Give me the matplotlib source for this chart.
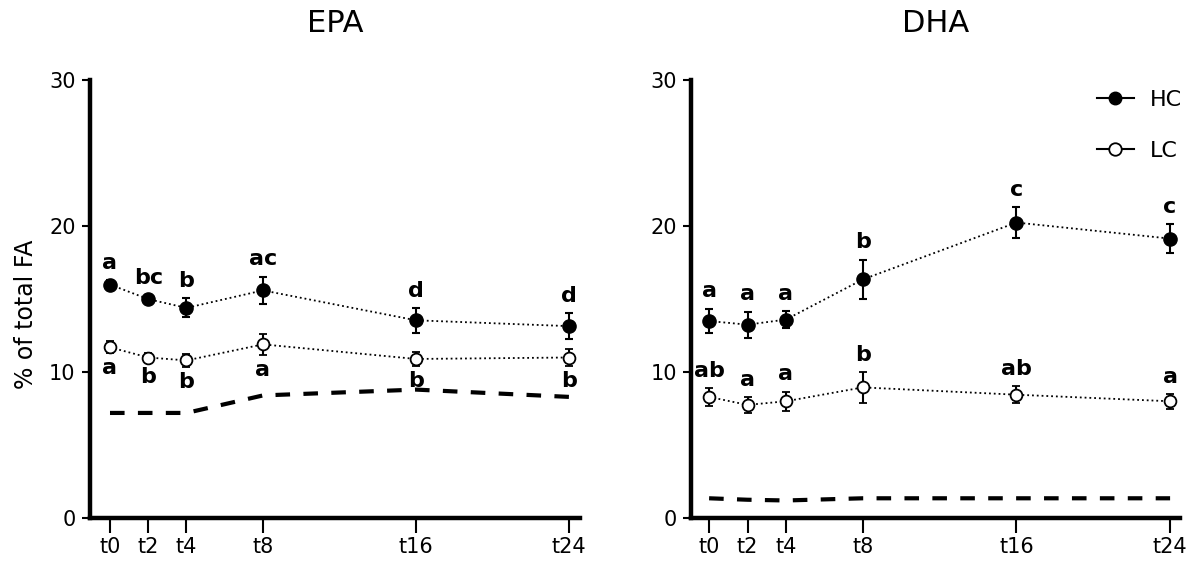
import matplotlib
matplotlib.use('Agg')
import matplotlib.pyplot as plt
from matplotlib.lines import Line2D

plt.rcParams['font.family'] = ['DejaVu Sans']

# time points (hours)
times = [0, 2, 4, 8, 16, 24]
tick_labels = ['t0', 't2', 't4', 't8', 't16', 't24']

# EPA
epa_hc = [16.0, 15.0, 14.4, 15.6, 13.55, 13.15]
epa_hc_err = [0.3, 0.25, 0.65, 0.95, 0.85, 0.9]
epa_lc = [11.7, 11.0, 10.8, 11.9, 10.9, 11.0]
epa_lc_err = [0.4, 0.3, 0.45, 0.7, 0.45, 0.6]
epa_ref = [7.2, 7.2, 7.2, 8.4, 8.8, 8.3]
epa_hc_letters = ['a', 'bc', 'b', 'ac', 'd', 'd']
epa_lc_letters = ['a', 'b', 'b', 'a', 'b', 'b']

# DHA
dha_hc = [13.5, 13.25, 13.6, 16.35, 20.25, 19.15]
dha_hc_err = [0.85, 0.9, 0.6, 1.35, 1.05, 1.0]
dha_lc = [8.3, 7.75, 8.0, 8.95, 8.45, 8.0]
dha_lc_err = [0.6, 0.55, 0.65, 1.05, 0.6, 0.5]
dha_ref = [1.35, 1.25, 1.2, 1.35, 1.35, 1.35]
dha_hc_letters = ['a', 'a', 'a', 'b', 'c', 'c']
dha_lc_letters = ['ab', 'a', 'a', 'b', 'ab', 'a']

fig = plt.figure(figsize=(11.89, 5.64), dpi=100)
ax1 = fig.add_axes([0.0753, 0.0816, 0.4125, 0.776])
ax2 = fig.add_axes([0.5812, 0.0816, 0.4113, 0.776])


def draw_panel(ax, title, hc, hc_err, lc, lc_err, ref, hc_let, lc_let, lc_below, xlim):
    ax.errorbar(times, hc, yerr=hc_err, fmt='o', color='black', ls=':', lw=1.3,
                ms=9.5, capsize=3, elinewidth=1.5, capthick=1.5)
    ax.errorbar(times, lc, yerr=lc_err, fmt='o', color='black', mfc='white', ls=':', lw=1.3,
                ms=8.5, mew=1.3, capsize=3, elinewidth=1.5, capthick=1.5)
    ax.plot(times, ref, color='black', ls=(0, (3.5, 3.2)), lw=3.0)
    for t, v, e, s in zip(times, hc, hc_err, hc_let):
        ax.text(t, v + e + 0.5, s, ha='center', va='bottom', fontsize=16, fontweight='bold')
    for t, v, e, s in zip(times, lc, lc_err, lc_let):
        if lc_below:
            ax.text(t, v - e - 0.35, s, ha='center', va='top', fontsize=16, fontweight='bold')
        else:
            ax.text(t, v + e + 0.5, s, ha='center', va='bottom', fontsize=16, fontweight='bold')
    ax.set_xlim(*xlim)
    ax.set_ylim(0, 30)
    ax.set_yticks([0, 10, 20, 30])
    ax.set_xticks(times)
    ax.set_xticklabels(tick_labels)
    ax.spines['top'].set_visible(False)
    ax.spines['right'].set_visible(False)
    ax.spines['left'].set_linewidth(3.2)
    ax.spines['bottom'].set_linewidth(3.2)
    ax.tick_params(axis='x', width=1.5, length=11, labelsize=15, pad=3)
    ax.tick_params(axis='y', width=1.5, length=6, labelsize=15, pad=4)
    ax.set_title(title, fontsize=22, pad=35)


draw_panel(ax1, 'EPA', epa_hc, epa_hc_err, epa_lc, epa_lc_err, epa_ref,
           epa_hc_letters, epa_lc_letters, True, (-1.07, 24.58))
draw_panel(ax2, 'DHA', dha_hc, dha_hc_err, dha_lc, dha_lc_err, dha_ref,
           dha_hc_letters, dha_lc_letters, False, (-0.94, 24.52))

ax1.set_ylabel('% of total FA', fontsize=17)
ax1.yaxis.set_label_coords(-0.105, 0.466)

handles = [
    Line2D([], [], color='black', marker='o', ms=9, lw=1.5),
    Line2D([], [], color='black', marker='o', mfc='white', ms=9, mew=1.3, lw=1.5),
]
ax2.legend(handles, ['HC', 'LC'], loc='upper right', frameon=False, fontsize=16,
           labelspacing=1.4, handlelength=1.7, handletextpad=0.7,
           borderpad=0, borderaxespad=0,
           bbox_to_anchor=(1182 / 1189, 1 - 90 / 564), bbox_transform=fig.transFigure)

fig.savefig('out.png', dpi=100)
